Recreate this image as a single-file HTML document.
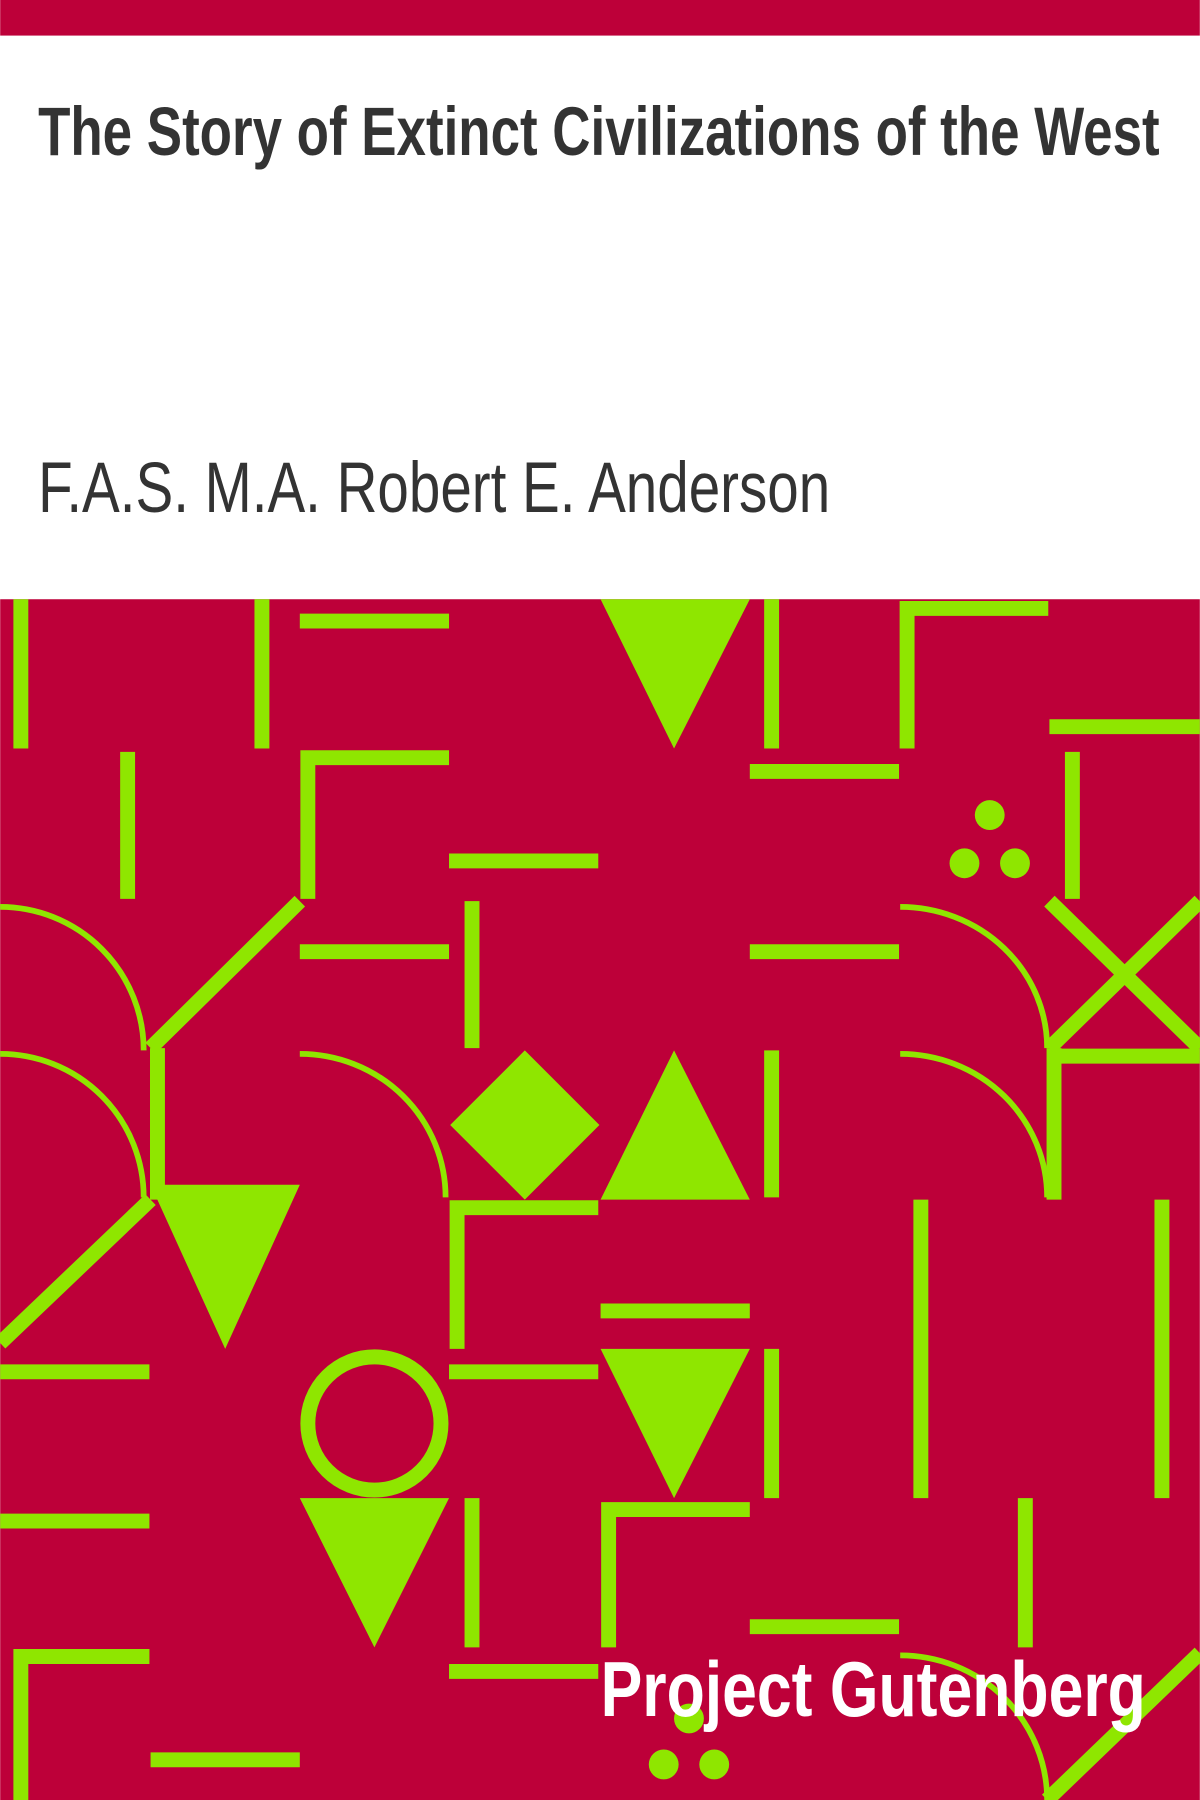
<!DOCTYPE html>
<html><head><meta charset="utf-8"><style>
html,body{margin:0;padding:0;background:#fff;}
svg{display:block;}
</style></head><body>
<svg width="1200" height="1800" viewBox="0 0 1045 1568" xmlns="http://www.w3.org/2000/svg">
<rect x="0" y="0" width="1045" height="31" fill="#bd0039"/>
<text x="33" y="135" font-family="Liberation Sans, sans-serif" font-weight="bold" font-size="60" fill="#333" textLength="977" lengthAdjust="spacingAndGlyphs">The Story of Extinct Civilizations of the West</text>
<text x="33" y="446" font-family="Liberation Sans, sans-serif" font-size="62" fill="#333" textLength="690" lengthAdjust="spacingAndGlyphs">F.A.S. M.A. Robert E. Anderson</text>
<g>
<rect x="0" y="522" width="1045" height="1046" fill="#bd0039"/>
<g stroke="#8fe600" stroke-width="13" fill="none">
<path d="M18 522V652M228 522V652M111 655V783M672 522V652M934 655V783M411 785V913M672 915V1043M802 1045V1305M1012 1045V1305M672 1175V1305M411 1305V1435M893 1305V1435M137 913V1045M918 913V1045"/>
<path d="M261 541H391M914 633H1045M653 672H783M391 750H521M261 829H391M653 829H783M0 1195H130M391 1195H521M523 1142H653M0 1325H130M653 1417H783M391 1456H521M131 1533H261M914 920H1045"/>
<path d="M790 652V530H913M268 783V660H391M398 1175V1052H521M530 1435V1315H653M18 1568V1443H130"/>
<path d="M131 913L261 785M0 1170L131 1045M914 785L1045 913M1045 785L914 913M912 1568L1045 1440"/>
<circle cx="326" cy="1240" r="58"/>
</g>
<g stroke="#8fe600" stroke-width="5" fill="none">
<path d="M0 790A125 125 0 0 1 125 915M0 918A125 125 0 0 1 125 1043M261 918A127 125 0 0 1 388 1043M784 790A128 123 0 0 1 912 913M784 918A128 125 0 0 1 912 1043M784 1442A128 126 0 0 1 912 1568"/>
</g>
<g fill="#8fe600">
<polygon points="523,522 653,522 587,652"/>
<polygon points="523,1045 653,1045 587,915"/>
<polygon points="131,1032 261,1032 196,1175"/>
<polygon points="523,1175 653,1175 587,1305"/>
<polygon points="261,1305 391,1305 326,1435"/>
<polygon points="457,915 522,980 457,1045 392,980"/>
<circle cx="862" cy="710" r="13"/><circle cx="840" cy="752" r="13"/><circle cx="884" cy="752" r="13"/>
<circle cx="600" cy="1497" r="13"/><circle cx="578" cy="1537" r="13"/><circle cx="622" cy="1537" r="13"/>
</g>
</g>
<text x="523" y="1495" font-family="Liberation Sans, sans-serif" font-weight="bold" font-size="68" fill="#fff" textLength="475" lengthAdjust="spacingAndGlyphs">Project Gutenberg</text>
</svg>
</body></html>
